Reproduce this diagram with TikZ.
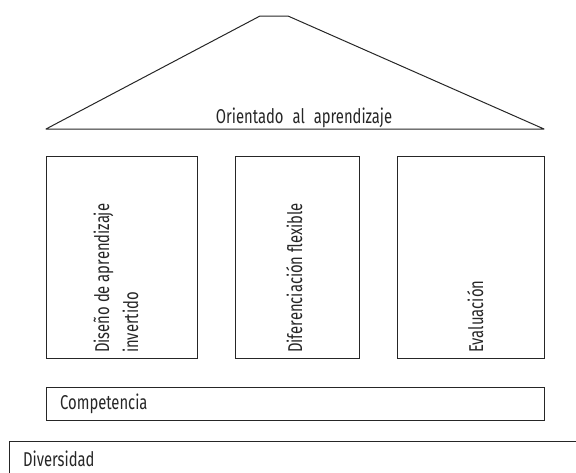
\documentclass[tikz,border=0pt]{standalone}
\usepackage{fontspec}
\setmainfont{Fira Sans}[FakeStretch=0.74]
\begin{document}
\begin{tikzpicture}[x=1pt,y=-1pt,
  line/.style={draw=black!85,line width=1pt},
  pillar/.style={line,rectangle,inner sep=0pt,minimum height=202pt},
  lbl/.style={font=\fontsize{20}{20}\selectfont,text=black!85,inner sep=0pt},
  vlbl/.style={lbl,rotate=90,anchor=base west}]
\useasboundingbox (0,0) rectangle (576,472);
\clip (0,0) rectangle (576,472);
% roof
\coordinate (rl) at (46,129);
\coordinate (rtl) at (260,16);
\coordinate (rtr) at (288,16);
\coordinate (rr) at (544,129);
\draw[line,line join=round] (rl) -- (rtl) -- (rtr) -- (rr) -- cycle;
\node[lbl,anchor=base] (roof) at (304,123) {Orientado\hspace{9pt}al\hspace{9pt}aprendizaje};
% pillars
\node[pillar,minimum width=151pt] (p1) at (121.5,257) {};
\node[pillar,minimum width=124pt] (p2) at (297,257) {};
\node[pillar,minimum width=147pt] (p3) at (470.5,257) {};
\node[vlbl] (t1a) at (109,353) {Diseño de aprendizaje};
\node[vlbl] (t1b) at (138,353) {invertido};
\node[vlbl] (t2) at (302,353) {Diferenciación flexible};
\node[vlbl] (t3) at (483,353) {Evaluación};
% base
\node[line,rectangle,inner sep=0pt,minimum width=498pt,minimum height=33pt] (comp) at (295,403.5) {};
\node[lbl,anchor=west] (tc) at (60,403.5) {Competencia};
\coordinate (d1) at (600,441);
\coordinate (d2) at (9,441);
\coordinate (d3) at (9,490);
\draw[line] (d1) -- (d2) -- (d3);
\node[lbl,anchor=base west] (td) at (23,466) {Diversidad};
\end{tikzpicture}
\end{document}
